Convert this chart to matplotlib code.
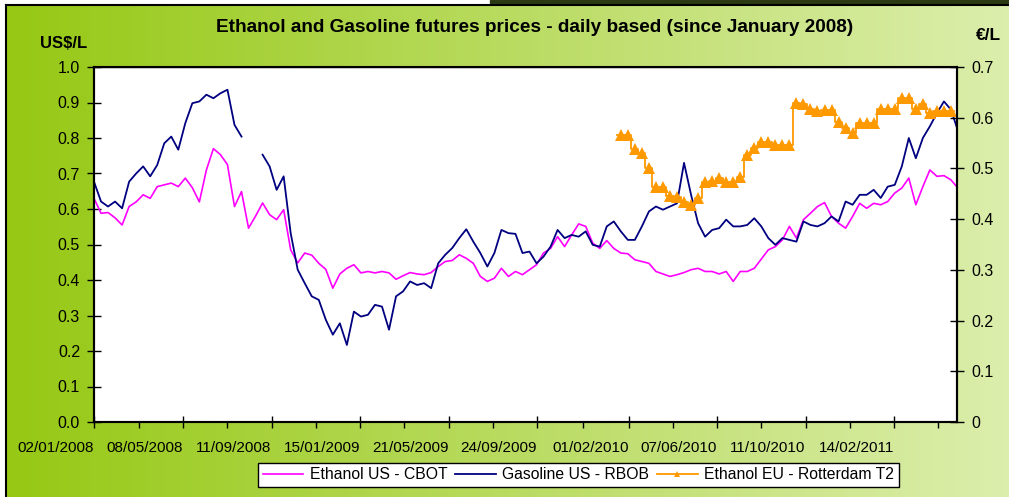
import numpy as np
import pandas as pd
import matplotlib
matplotlib.use("Agg")
import matplotlib.pyplot as plt
import matplotlib.transforms as mtransforms
from matplotlib.lines import Line2D

plt.rcParams['font.family'] = ['Liberation Sans', 'DejaVu Sans']

# sampled every 10 days from 02/01/2008
dates = pd.date_range('2008-01-02', periods=124, freq='10D')

# Ethanol US - CBOT (US$/L)
ethanol_us = [
    0.63, 0.588, 0.59, 0.575, 0.555, 0.607, 0.62, 0.64, 0.63, 0.663,
    0.668, 0.673, 0.663, 0.687, 0.66, 0.62, 0.71, 0.77, 0.753, 0.725,
    0.607, 0.649, 0.546, 0.58, 0.617, 0.584, 0.57, 0.598, 0.485, 0.448,
    0.476, 0.47, 0.447, 0.43, 0.377, 0.417, 0.433, 0.443, 0.42, 0.424,
    0.42, 0.424, 0.42, 0.402, 0.412, 0.421, 0.417, 0.415, 0.421, 0.438,
    0.452, 0.455, 0.471, 0.461, 0.447, 0.41, 0.396, 0.405, 0.433, 0.41,
    0.424, 0.415, 0.429, 0.443, 0.476, 0.489, 0.522, 0.494, 0.527, 0.558,
    0.551, 0.504, 0.489, 0.511, 0.489, 0.476, 0.474, 0.457, 0.452, 0.447,
    0.424, 0.417, 0.41, 0.415, 0.421, 0.429, 0.433, 0.424, 0.424, 0.417,
    0.424, 0.396, 0.424, 0.424, 0.433, 0.459, 0.485, 0.494, 0.513, 0.551,
    0.518, 0.57, 0.588, 0.607, 0.618, 0.579, 0.56, 0.546, 0.579, 0.616,
    0.602, 0.616, 0.612, 0.621, 0.645, 0.659, 0.687, 0.612, 0.663, 0.71,
    0.692, 0.694, 0.682, 0.659,
]

# Gasoline US - RBOB (US$/L), nan = no quote
gasoline_us = [
    0.677, 0.621, 0.607, 0.621, 0.602, 0.677, 0.70, 0.72, 0.692, 0.724,
    0.785, 0.804, 0.767, 0.842, 0.898, 0.903, 0.922, 0.912, 0.926, 0.936,
    0.837, 0.804, np.nan, np.nan, 0.753, 0.72, 0.654, 0.692, 0.532, 0.429,
    0.391, 0.354, 0.344, 0.288, 0.246, 0.278, 0.217, 0.311, 0.297, 0.302,
    0.33, 0.325, 0.26, 0.354, 0.368, 0.396, 0.386, 0.391, 0.377, 0.447,
    0.471, 0.49, 0.518, 0.543, 0.508, 0.476, 0.438, 0.476, 0.541, 0.532,
    0.53, 0.476, 0.48, 0.447, 0.466, 0.494, 0.541, 0.518, 0.527, 0.522,
    0.537, 0.499, 0.494, 0.551, 0.565, 0.537, 0.513, 0.513, 0.551, 0.593,
    0.607, 0.598, 0.607, 0.616, 0.73, 0.64, 0.56, 0.522, 0.541, 0.546,
    0.57, 0.551, 0.551, 0.555, 0.574, 0.551, 0.518, 0.499, 0.518, 0.513,
    0.508, 0.565, 0.555, 0.551, 0.56, 0.579, 0.565, 0.621, 0.612, 0.64,
    0.64, 0.654, 0.631, 0.663, 0.668, 0.72, 0.80, 0.743, 0.80, 0.833,
    0.87, 0.903, 0.88, 0.82,
]

# Ethanol EU - Rotterdam T2 (EUR/L), quoted from early 2010
ethanol_eu = [np.nan] * 75 + [
    0.566, 0.566, 0.538, 0.53, 0.50, 0.464, 0.464, 0.445, 0.443, 0.433,
    0.428, 0.441, 0.474, 0.476, 0.481, 0.474, 0.474, 0.484, 0.527, 0.54,
    0.553, 0.553, 0.546, 0.546, 0.546, 0.63, 0.628, 0.618, 0.614, 0.615,
    0.616, 0.592, 0.579, 0.569, 0.589, 0.589, 0.589, 0.618, 0.618, 0.618,
    0.639, 0.639, 0.618, 0.628, 0.609, 0.614, 0.614, 0.614, np.nan,
]

tick_dates = ['2008-01-02', '2008-05-08', '2008-09-11', '2009-01-15', '2009-05-21',
              '2009-09-24', '2010-02-01', '2010-06-07', '2010-10-11', '2011-02-14']

pink = '#FF00FF'
navy = '#000080'
orange = '#FF9900'

W, H = 1009, 497
fig = plt.figure(figsize=(W / 100, H / 100), dpi=100)
fig.patch.set_facecolor('white')

# green gradient background
bg = fig.add_axes([5 / W, 0, 1 - 5 / W, 1 - 5 / H], zorder=-10)
grad = np.linspace(0, 1, 256)[None, :, None]
c0 = np.array([150, 200, 20]) / 255
c1 = np.array([220, 238, 172]) / 255
img = c0 + (c1 - c0) * grad
bg.imshow(img, aspect='auto', extent=[0, 1, 0, 1])
bg.set_xlim(0, 1)
bg.set_ylim(0, 1)
bg.axis('off')
fig.add_artist(Line2D([5.5 / W, 5.5 / W], [0, 1 - 5 / H], color='black', lw=1.5))
fig.add_artist(Line2D([5.5 / W, 1], [1 - 5 / H, 1 - 5 / H], color='black', lw=1.5))
fig.add_artist(plt.Rectangle((490 / W, 1 - 3 / H), 1 - 490 / W, 3 / H,
                             color='#2b3a12', transform=fig.transFigure))

ax = fig.add_axes([94 / W, 1 - 422 / H, (957 - 94) / W, (422 - 67) / H])
ax.set_facecolor('white')
ax2 = ax.twinx()

l1, = ax.plot(dates, ethanol_us, color=pink, lw=1.2)
l2, = ax.plot(dates, gasoline_us, color=navy, lw=1.3)
l3, = ax2.plot(dates, ethanol_eu, color=orange, lw=1.3, drawstyle='steps-mid',
               marker='^', markersize=8, markeredgewidth=0)

x0 = pd.Timestamp('2008-01-02')
ax.set_xlim(x0, x0 + pd.Timedelta(days=1228.6))
ax.set_ylim(0, 1.0)
ax2.set_ylim(0, 0.7)

ax.set_yticks(np.arange(0, 1.01, 0.1))
ax.set_yticklabels(['%.1f' % v for v in np.arange(0, 1.01, 0.1)])
ax2.set_yticks(np.arange(0, 0.71, 0.1))
ax2.set_yticklabels(['0'] + ['%.1f' % v for v in np.arange(0.1, 0.71, 0.1)])

ticks = pd.to_datetime(tick_dates)
ax.set_xticks(ticks)
ax.set_xticklabels([t.strftime('%d/%m/%Y') for t in ticks])
mids = ticks[:-1] + (ticks[1:] - ticks[:-1]) / 2
ax.set_xticks(list(mids) + [ticks[-1] + (ticks[-1] - ticks[-2]) / 2], minor=True)

# date labels sit left of their tick
shift = mtransforms.ScaledTranslation(-2 / 100, 0, fig.dpi_scale_trans)
for lab in ax.get_xticklabels():
    lab.set_horizontalalignment('right')
    lab.set_transform(lab.get_transform() + shift)

for a in (ax, ax2):
    for s in a.spines.values():
        s.set_linewidth(1.5)
        s.set_color('black')
ax.spines['bottom'].set_color('#404040')
ax.spines['top'].set_linewidth(1.0)

ax.tick_params(axis='x', which='major', direction='inout', length=8, width=1,
               labelsize=11, pad=10, colors='black')
ax.tick_params(axis='x', which='minor', direction='out', length=4, width=1)
ax.tick_params(axis='y', direction='inout', length=10, width=1, labelsize=11.5, pad=5)
ax2.tick_params(axis='y', direction='inout', length=10, width=1, labelsize=11.5, pad=5)

fig.text(535 / W, 1 - 28 / H, 'Ethanol and Gasoline futures prices - daily based (since January 2008)',
         ha='center', va='center', fontsize=13.7, fontweight='bold')
fig.text(64 / W, 1 - 43 / H, 'US$/L', ha='center', va='center', fontsize=12, fontweight='bold')
fig.text(988 / W, 1 - 35 / H, '€/L', ha='center', va='center', fontsize=12.5, fontweight='bold')

leg = fig.legend([l1, l2, l3], ['Ethanol US - CBOT', 'Gasoline US - RBOB', 'Ethanol EU - Rotterdam T2'],
                 loc='lower left', bbox_to_anchor=(250 / W, 2 / H), ncol=3, fontsize=11.3,
                 frameon=True, fancybox=False, edgecolor='black', framealpha=1,
                 handlelength=2.6, columnspacing=0.5, handletextpad=0.4, borderpad=0.3)
leg.get_frame().set_linewidth(1.0)
for h in leg.legend_handles:
    h.set_markersize(4)

fig.savefig('out.png', dpi=100)
